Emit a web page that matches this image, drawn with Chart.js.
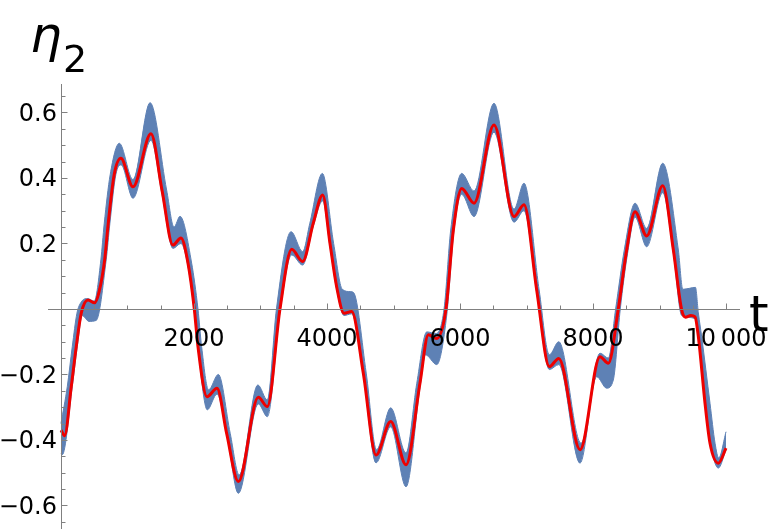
<!DOCTYPE html>
<html>
<head>
<meta charset="utf-8">
<script src="https://cdn.jsdelivr.net/npm/chart.js@4"></script>
<style>
  html, body { margin: 0; padding: 0; background: #fff; }
  #wrap { position: relative; width: 768px; height: 529px; }
</style>
</head>
<body>
<div id="wrap"><canvas id="c" width="768" height="529"></canvas></div>
<script>
// smooth (red) curve at its turning points
const redT = [0, 55, 155, 230, 305, 406, 506, 570, 657, 710, 800, 900, 1083, 1353, 1519, 1684, 1804, 1910, 2005, 2060,
  2195, 2346, 2491, 2667, 2967, 3103, 3293, 3469, 3634, 3794, 3935, 4045, 4145, 4256, 4371, 4546, 4737, 4958, 5188,
  5398, 5524, 5649, 5789, 5900, 6025, 6211, 6511, 6812, 6962, 7153, 7343, 7485, 7805, 8105, 8230, 8380, 8506, 8632,
  8807, 9048, 9208, 9333, 9390, 9470, 9534, 9584, 9684, 9759, 9884, 10000];
const redV = [-0.37, -0.387, -0.237, -0.115, -0.013, 0.027, 0.019, 0.05, 0.15, 0.26, 0.41, 0.46, 0.373, 0.535, 0.363, 0.195, 0.217, 0.14, 0.0, -0.115,
  -0.268, -0.242, -0.38, -0.527, -0.27, -0.298, 0.0, 0.182, 0.145, 0.262, 0.348, 0.2, 0.068, -0.013, -0.008, -0.196, -0.446, -0.344, -0.476,
  -0.227, -0.079, -0.09, 0.0, 0.241, 0.368, 0.323, 0.562, 0.282, 0.318, 0.058, -0.176, -0.151, -0.43, -0.146, -0.166, 0.0, 0.18, 0.297,
  0.223, 0.376, 0.18, -0.003, -0.025, -0.02, -0.024, -0.085, -0.288, -0.41, -0.471, -0.425];

// upper edge of the fast-oscillating (blue) band
const hiT = [0, 95, 170, 240, 300, 395, 500, 600, 650, 740, 877, 1083, 1340, 1589, 1700, 1790, 1965, 2060, 2115, 2220,
  2366, 2545, 2680, 2960, 3103, 3240, 3460, 3634, 3740, 3930, 4100, 4230, 4350, 4400, 4590, 4745, 4958, 5188, 5350,
  5500, 5640, 5760, 5860, 6025, 6211, 6511, 6812, 6962, 7190, 7343, 7485, 7820, 8105, 8230, 8340, 8470, 8632, 8807,
  9048, 9283, 9350, 9450, 9540, 9584, 9634, 9759, 9835, 9890, 10000];
const hiV = [-0.35, -0.237, -0.115, -0.013, 0.02, 0.032, 0.024, 0.15, 0.26, 0.41, 0.506, 0.395, 0.63, 0.363, 0.25, 0.283, 0.14, 0.0, -0.115, -0.247,
  -0.2, -0.38, -0.507, -0.232, -0.278, 0.0, 0.236, 0.175, 0.26, 0.414, 0.2, 0.06, 0.053, 0.05, -0.196, -0.43, -0.302, -0.44, -0.227,
  -0.07, -0.075, 0.0, 0.241, 0.414, 0.36, 0.628, 0.305, 0.384, 0.058, -0.14, -0.1, -0.41, -0.135, -0.15, 0.0, 0.18, 0.323, 0.246,
  0.445, 0.18, 0.06, 0.063, 0.066, -0.012, -0.085, -0.288, -0.41, -0.455, -0.375];

// lower edge of the blue band
const loT = [0, 20, 170, 245, 320, 420, 530, 680, 735, 825, 905, 1083, 1353, 1519, 1684, 1804, 1910, 2005, 2060, 2200,
  2346, 2500, 2667, 2967, 3103, 3293, 3469, 3634, 3790, 3935, 4045, 4145, 4256, 4371, 4546, 4737, 4958, 5188, 5398,
  5480, 5650, 5800, 5910, 6025, 6211, 6511, 6812, 6962, 7153, 7343, 7485, 7805, 8055, 8205, 8305, 8410, 8520, 8632,
  8807, 9048, 9208, 9333, 9540, 9590, 9690, 9765, 9884, 10000];
const loV = [-0.44, -0.445, -0.237, -0.115, -0.02, -0.038, -0.035, 0.15, 0.26, 0.41, 0.44, 0.338, 0.515, 0.35, 0.185, 0.2, 0.13, -0.01, -0.12, -0.308,
  -0.26, -0.39, -0.563, -0.29, -0.329, -0.01, 0.165, 0.134, 0.25, 0.33, 0.19, 0.06, -0.02, -0.015, -0.2, -0.47, -0.36, -0.543, -0.24,
  -0.14, -0.17, -0.02, 0.241, 0.35, 0.282, 0.54, 0.265, 0.3, 0.05, -0.185, -0.17, -0.471, -0.207, -0.242, -0.217, 0.0, 0.17, 0.28,
  0.19, 0.355, 0.17, -0.02, -0.03, -0.09, -0.29, -0.41, -0.486, -0.43];

// axis ticks
const xTicks = [2000, 4000, 6000, 8000, 10000];
const xTickLabels = ['2000', '4000', '6000', '8000', '10\u2009000'];
const yTicks = [-0.6, -0.4, -0.2, 0.2, 0.4, 0.6];
const yTickLabels = ['\u22120.6', '\u22120.4', '\u22120.2', '0.2', '0.4', '0.6'];

const blue = '#5e81b5';
const toPoints = (ts, vs) => ts.map((t, i) => ({ x: t, y: vs[i] }));

// Mathematica-style axes crossing at the origin
const axesPlugin = {
  id: 'originAxes',
  afterDatasetsDraw(chart) {
    const { ctx, chartArea, scales: { x, y } } = chart;
    const ax = Math.round(x.getPixelForValue(0)) + 0.5;
    const ay = Math.round(y.getPixelForValue(0)) + 0.5;
    ctx.save();
    ctx.strokeStyle = '#808080';
    ctx.lineWidth = 1;
    ctx.beginPath();
    ctx.moveTo(chartArea.left, ay); ctx.lineTo(chartArea.right, ay);
    ctx.moveTo(ax, chartArea.top); ctx.lineTo(ax, chartArea.bottom);
    // y ticks: major every 0.2, minor every 0.05
    for (let k = -13; k <= 13; k++) {
      if (k === 0) continue;
      const py = Math.round(y.getPixelForValue(k * 0.05)) + 0.5;
      ctx.moveTo(ax, py); ctx.lineTo(ax + (k % 4 === 0 ? 6 : 4), py);
    }
    // x ticks: major every 2000, minor every 500
    for (let k = 1; k <= 20; k++) {
      const px = Math.round(x.getPixelForValue(k * 500)) + 0.5;
      ctx.moveTo(px, ay); ctx.lineTo(px, ay - (k % 4 === 0 ? 6 : 4));
    }
    ctx.stroke();

    ctx.fillStyle = '#000';
    ctx.font = '24px "DejaVu Sans"';
    ctx.textBaseline = 'alphabetic';
    ctx.textAlign = 'right';
    yTicks.forEach((v, i) => ctx.fillText(yTickLabels[i], ax - 4.5, y.getPixelForValue(v) + 8.5));
    ctx.textAlign = 'center';
    xTicks.forEach((v, i) => ctx.fillText(xTickLabels[i], x.getPixelForValue(v), ay + 36));

    // axis labels
    ctx.textAlign = 'left';
    ctx.font = 'italic 50px "DejaVu Sans"';
    ctx.fillText('\u03b7', 30, 52);
    ctx.font = '38px "DejaVu Sans"';
    ctx.fillText('2', 63, 72);
    ctx.font = '50px "DejaVu Sans"';
    ctx.fillText('t', 749, 331);
    ctx.restore();
  }
};

new Chart(document.getElementById('c'), {
  type: 'line',
  data: {
    datasets: [
      { label: 'smooth', data: toPoints(redT, redV), borderColor: '#ee0000', borderWidth: 3,
        pointRadius: 0, cubicInterpolationMode: 'monotone', fill: false },
      { label: 'upper', data: toPoints(hiT, hiV), borderColor: blue, borderWidth: 1,
        pointRadius: 0, cubicInterpolationMode: 'monotone', fill: false },
      { label: 'lower', data: toPoints(loT, loV), borderColor: blue, borderWidth: 1, backgroundColor: blue,
        pointRadius: 0, cubicInterpolationMode: 'monotone', fill: '-1' }
    ]
  },
  options: {
    responsive: false,
    animation: false,
    events: [],
    layout: { padding: { left: 48, right: 28, top: 84, bottom: 0 } },
    scales: {
      x: { type: 'linear', min: -195, max: 10210, display: false },
      y: { type: 'linear', min: -0.672, max: 0.687, display: false }
    },
    plugins: { legend: { display: false }, tooltip: { enabled: false } }
  },
  plugins: [axesPlugin]
});
</script>
</body>
</html>
